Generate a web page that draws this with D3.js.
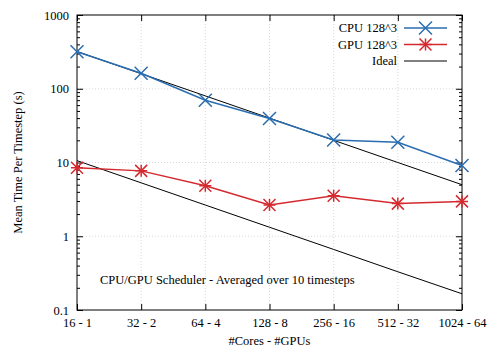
<!DOCTYPE html>
<html>
<head>
<meta charset="utf-8">
<script src="https://cdn.jsdelivr.net/npm/d3@7"></script>
<style>
body { margin: 0; background: #fff; }
svg text { font-family: "Liberation Serif", "Times New Roman", Times, serif !important; font-size: 12.5px !important; fill: #000; }
</style>
</head>
<body>
<script>
var w = 500, h = 350;
var margin = {top: 15, right: 38, bottom: 40, left: 77};

// data
var categories = ["16 - 1", "32 - 2", "64 - 4", "128 - 8", "256 - 16", "512 - 32", "1024 - 64"];
var cpuTimes = [318, 162, 70, 39.5, 20.2, 18.8, 9.1];
var gpuTimes = [8.5, 7.7, 4.85, 2.65, 3.55, 2.77, 2.97];
var idealCpu = [320, 160, 80, 40, 20, 10, 5];
var idealGpu = [10.6, 5.3, 2.65, 1.325, 0.6625, 0.33, 0.166];
var yTicks = [0.1, 1, 10, 100, 1000];

var svg = d3.select("body").append("svg")
	.attr("width", w)
	.attr("height", h);

var x = d3.scalePoint()
	.domain(categories)
	.range([margin.left, w - margin.right]);

var y = d3.scaleLog()
	.domain([0.1, 1000])
	.range([h - margin.bottom, margin.top]);

var x0 = margin.left, x1 = w - margin.right,
    y0 = h - margin.bottom, y1 = margin.top;

// grid
var grid = svg.append("g")
	.style("stroke", "#c8c8c8")
	.style("stroke-width", 0.7)
	.style("stroke-dasharray", "1,2");
grid.selectAll(".gx")
	.data(categories.slice(1, -1))
	.enter().append("line")
	.attr("x1", function(d) { return x(d); })
	.attr("x2", function(d) { return x(d); })
	.attr("y1", y0).attr("y2", y1);
grid.selectAll(".gy")
	.data(yTicks.slice(1, -1))
	.enter().append("line")
	.attr("y1", function(d) { return y(d); })
	.attr("y2", function(d) { return y(d); })
	.attr("x1", x0).attr("x2", x1);

// axes with inward ticks
var minor = [];
for (var e = -1; e < 3; e++) {
	for (var k = 2; k < 10; k++) minor.push(k * Math.pow(10, e));
}

svg.append("g").attr("transform", "translate(" + x0 + ",0)")
	.call(d3.axisLeft(y).tickValues(yTicks).tickSize(-6).tickPadding(8)
		.tickFormat(function(d) { return d3.format("~g")(d); }));
svg.append("g").attr("transform", "translate(" + x0 + ",0)")
	.call(d3.axisLeft(y).tickValues(minor).tickSize(-3).tickFormat(""));
svg.append("g").attr("transform", "translate(" + x1 + ",0)")
	.call(d3.axisRight(y).tickValues(yTicks).tickSize(-6).tickFormat(""));
svg.append("g").attr("transform", "translate(" + x1 + ",0)")
	.call(d3.axisRight(y).tickValues(minor).tickSize(-3).tickFormat(""));
svg.append("g").attr("transform", "translate(0," + y0 + ")")
	.call(d3.axisBottom(x).tickSize(-6).tickPadding(8));
svg.append("g").attr("transform", "translate(0," + y1 + ")")
	.call(d3.axisTop(x).tickSize(-6).tickFormat(""));

svg.selectAll(".domain").remove();
svg.selectAll(".tick line").style("stroke", "#000");

// border
svg.append("rect")
	.attr("x", x0).attr("y", y1)
	.attr("width", x1 - x0).attr("height", y0 - y1)
	.style("fill", "none")
	.style("stroke", "#000")
	.style("stroke-width", 1);

var line = d3.line()
	.x(function(d, i) { return x(categories[i]); })
	.y(function(d) { return y(d); });

var blue = "#2a6db0", red = "#d42a2f";

svg.append("path").datum(idealCpu).attr("d", line)
	.style("fill", "none").style("stroke", "#000").style("stroke-width", 1);
svg.append("path").datum(idealGpu).attr("d", line)
	.style("fill", "none").style("stroke", "#000").style("stroke-width", 1);

svg.append("path").datum(cpuTimes).attr("d", line)
	.style("fill", "none").style("stroke", blue).style("stroke-width", 1.5);
svg.append("path").datum(gpuTimes).attr("d", line)
	.style("fill", "none").style("stroke", red).style("stroke-width", 1.5);

function cross(g, cx, cy, s, col) {
	g.append("path")
		.attr("d", "M" + (cx - s) + "," + (cy - s) + "L" + (cx + s) + "," + (cy + s) +
			"M" + (cx - s) + "," + (cy + s) + "L" + (cx + s) + "," + (cy - s))
		.style("stroke", col).style("stroke-width", 1.5).style("fill", "none");
}
function star(g, cx, cy, s, col) {
	cross(g, cx, cy, s, col);
	g.append("path")
		.attr("d", "M" + (cx - s) + "," + cy + "L" + (cx + s) + "," + cy +
			"M" + cx + "," + (cy - s) + "L" + cx + "," + (cy + s))
		.style("stroke", col).style("stroke-width", 1.5);
}

var marks = svg.append("g");
cpuTimes.forEach(function(d, i) { cross(marks, x(categories[i]), y(d), 6.5, blue); });
gpuTimes.forEach(function(d, i) { star(marks, x(categories[i]), y(d), 6, red); });

// legend
var legend = svg.append("g");
var items = [
	{name: "CPU 128^3", col: blue, mark: "cross"},
	{name: "GPU 128^3", col: red, mark: "star"},
	{name: "Ideal", col: "#000", mark: null}
];
items.forEach(function(it, i) {
	var ly = 28 + i * 16.5;
	legend.append("text").attr("x", 397).attr("y", ly + 4)
		.attr("text-anchor", "end").text(it.name);
	legend.append("line").attr("x1", 404).attr("x2", 447)
		.attr("y1", ly).attr("y2", ly)
		.style("stroke", it.col).style("stroke-width", it.mark ? 1.5 : 1);
	if (it.mark == "cross") cross(legend, 425.5, ly, 6.5, it.col);
	if (it.mark == "star") star(legend, 425.5, ly, 6, it.col);
});

// labels
svg.append("text")
	.attr("transform", "translate(22," + ((y0 + y1) / 2) + ") rotate(-90)")
	.attr("text-anchor", "middle")
	.text("Mean Time Per Timestep (s)");
svg.append("text")
	.attr("x", (x0 + x1) / 2).attr("y", 345)
	.attr("text-anchor", "middle")
	.text("#Cores - #GPUs");
svg.append("text")
	.attr("x", 100).attr("y", 284)
	.text("CPU/GPU Scheduler - Averaged over 10 timesteps");
</script>
</body>
</html>
